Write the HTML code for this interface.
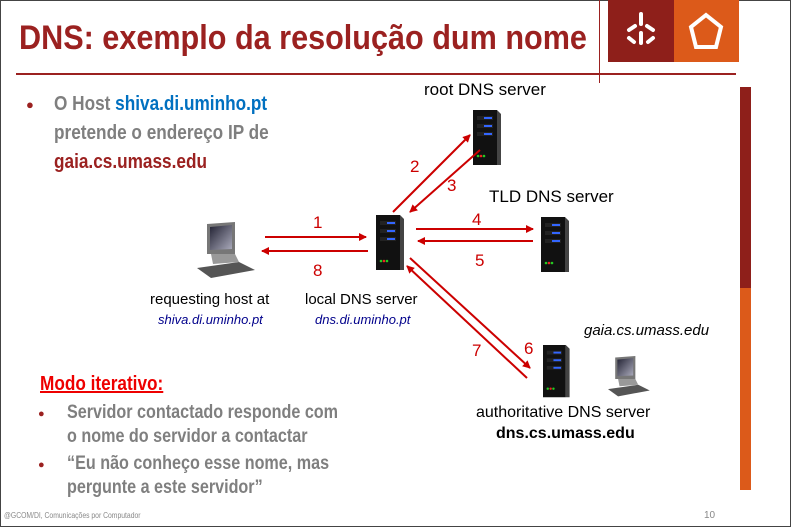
<!DOCTYPE html>
<html><head><meta charset="utf-8"><style>
body{margin:0;width:791px;height:527px;overflow:hidden;background:#fff;font-family:"Liberation Sans",sans-serif}
.pg{position:absolute;left:0;top:0;width:789px;height:525px;border:1px solid #444}
.t{position:absolute;white-space:nowrap}
.c{transform:scaleX(0.88);transform-origin:0 0;font-weight:bold}
</style></head><body>
<div class="pg"></div>
<div class="t c" style="left:19px;top:19px;font-size:34px;color:#9b2120;transform:scaleX(0.9)">DNS: exemplo da resolução dum nome</div>
<div style="position:absolute;left:16px;top:73px;width:720px;height:2px;background:#9b2120"></div>
<div style="position:absolute;left:599px;top:0;width:1px;height:83px;background:#9b2120"></div>
<div style="position:absolute;left:608px;top:0;width:66px;height:62px;background:#8e1f1a"></div>
<div style="position:absolute;left:674px;top:0;width:65px;height:62px;background:#dc5a1a"></div>
<svg style="position:absolute;left:608px;top:0" width="132" height="62">
<g stroke="#fff" stroke-width="4" stroke-linecap="round" fill="none">
<line x1="33" y1="14" x2="33" y2="24"/><line x1="33" y1="33" x2="33" y2="43"/>
<line x1="21" y1="30" x2="27" y2="26"/><line x1="45" y1="30" x2="39" y2="26"/>
<line x1="21" y1="38" x2="26" y2="42"/><line x1="45" y1="38" x2="40" y2="42"/>
<path d="M98 15 L113 27 L108 47 L88 47 L83 27 Z"/></g></svg>
<div style="position:absolute;left:740px;top:87px;width:11px;height:201px;background:#8e1f1a"></div>
<div style="position:absolute;left:740px;top:288px;width:11px;height:202px;background:#dc5a1a"></div>

<div class="t" style="left:26px;top:97px;font-size:13px;color:#9b2120">●</div>
<div class="t c" style="left:54px;top:90px;font-size:20px;line-height:29px;color:#7f7f7f;transform:scaleX(0.86)">O Host <span style="color:#0070c0">shiva.di.uminho.pt</span><br>pretende o endereço IP de<br><span style="color:#9b2120">gaia.cs.umass.edu</span></div>

<div class="t c" style="left:40px;top:373px;font-size:20px;color:#e00;text-decoration:underline;transform:scaleX(0.86)">Modo iterativo:</div>
<div class="t" style="left:38px;top:408px;font-size:11px;color:#9b2120">●</div>
<div class="t" style="left:38px;top:459px;font-size:11px;color:#9b2120">●</div>
<div class="t c" style="left:67px;top:401px;font-size:19px;line-height:24px;color:#7f7f7f;transform:scaleX(0.85)">Servidor contactado responde com<br>o nome do servidor a contactar</div>
<div class="t c" style="left:67px;top:452px;font-size:19px;line-height:24px;color:#7f7f7f;transform:scaleX(0.85)">“Eu não conheço esse nome, mas<br>pergunte a este servidor”</div>
<div class="t" style="left:4px;top:511px;font-size:8px;color:#888;transform:scaleX(.85);transform-origin:0 0">@GCOM/DI, Comunicações por Computador</div>
<div class="t" style="left:704px;top:510px;font-size:10px;color:#888">10</div>

<div class="t" style="left:424px;top:80px;font-size:17px">root DNS server</div>
<div class="t" style="left:489px;top:187px;font-size:17px">TLD DNS server</div>
<div class="t" style="left:150px;top:291px;font-size:15px">requesting host at</div>
<div class="t" style="left:158px;top:312px;font-size:13px;font-style:italic;color:#00008b">shiva.di.uminho.pt</div>
<div class="t" style="left:305px;top:291px;font-size:15px">local DNS server</div>
<div class="t" style="left:315px;top:312px;font-size:13px;font-style:italic;color:#00008b">dns.di.uminho.pt</div>
<div class="t" style="left:584px;top:322px;font-size:15px;font-style:italic">gaia.cs.umass.edu</div>
<div class="t" style="left:476px;top:404px;font-size:16px">authoritative DNS server</div>
<div class="t" style="left:496px;top:425px;font-size:16px;font-weight:bold">dns.cs.umass.edu</div>

<svg style="position:absolute;left:0;top:0" width="791" height="527">
<defs><marker id="a" markerWidth="8" markerHeight="8" refX="7" refY="4" orient="auto" markerUnits="userSpaceOnUse"><path d="M0 0L8 4L0 8Z" fill="#c00"/></marker>
<linearGradient id="sc" x1="0" y1="0" x2="1" y2="1"><stop offset="0" stop-color="#223"/><stop offset="1" stop-color="#aab"/></linearGradient>
<g id="srv"><rect x="0" y="0" width="24" height="55" fill="#111"/><path d="M24 0L28 4L28 55L24 55Z" fill="#444"/>
<rect x="4" y="6" width="16" height="4" fill="#222"/><rect x="11" y="7" width="8" height="2" fill="#36f"/>
<rect x="4" y="14" width="16" height="4" fill="#222"/><rect x="11" y="15" width="8" height="2" fill="#36f"/>
<rect x="4" y="22" width="16" height="4" fill="#222"/><rect x="11" y="23" width="8" height="2" fill="#36f"/>
<circle cx="5" cy="46" r="1.3" fill="#2c2"/><circle cx="8" cy="46" r="1.3" fill="#e22"/><circle cx="11" cy="46" r="1.3" fill="#2c2"/></g>
<g id="pc"><path d="M10 2L38 0L38 32L10 32Z" fill="#777"/><path d="M13 5L35 3L35 27L13 28Z" fill="url(#sc)"/><path d="M0 46L42 40L58 48L14 56Z" fill="#555"/><path d="M14 32L38 32L42 40L16 42Z" fill="#999"/></g></defs>
<use href="#srv" x="473" y="110"/><use href="#srv" x="376" y="215"/><use href="#srv" x="541" y="217"/>
<g transform="translate(543,345) scale(0.95)"><use href="#srv"/></g>
<use href="#pc" x="197" y="222"/>
<g transform="translate(608,356) scale(0.72)"><use href="#pc"/></g>
<g stroke="#c00" stroke-width="2" marker-end="url(#a)">
<line x1="265" y1="237" x2="366" y2="237"/><line x1="368" y1="251" x2="262" y2="251"/>
<line x1="393" y1="212" x2="470" y2="135"/><line x1="480" y1="150" x2="410" y2="212"/>
<line x1="416" y1="229" x2="533" y2="229"/><line x1="533" y1="241" x2="418" y2="241"/>
<line x1="410" y1="258" x2="530" y2="368"/><line x1="527" y1="378" x2="407" y2="266"/></g>
<g fill="#c00" font-size="17" font-family="Liberation Sans">
<text x="313" y="228">1</text><text x="313" y="276">8</text><text x="410" y="172">2</text><text x="447" y="191">3</text>
<text x="472" y="225">4</text><text x="475" y="266">5</text><text x="524" y="354">6</text><text x="472" y="356">7</text></g>
</svg>
</body></html>
